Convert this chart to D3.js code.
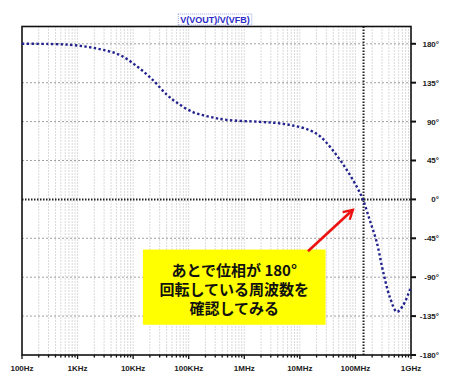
<!DOCTYPE html>
<html>
<head>
<meta charset="utf-8">
<script src="https://cdn.jsdelivr.net/npm/d3@7"></script>
<style>
  body { margin: 0; background: #fff; }
  svg { display: block; }
</style>
</head>
<body>
<div id="chart"></div>
<script>
// phase response (Hz, degrees)
var freqs = [100, 300, 730, 1480, 2860, 5800, 11700, 22700, 40500, 61000, 119000, 240000, 486000,
  1.9e6, 3.86e6, 7.5e6, 15e6, 23e6, 39e6, 70e6, 106e6, 136e6, 181e6, 243e6, 311e6, 416e6,
  556e6, 713e6, 951e6, 1e9];
var phases = [180, 179.8, 178.8, 176.5, 173, 167, 154, 138, 121, 112, 101, 95.5, 92,
  89.7, 88.3, 85.5, 80, 73, 57, 34, 14.5, 0, -24, -50, -82, -113,
  -130, -123, -105, -101];

var decadeLabels = ['100Hz', '1KHz', '10KHz', '100KHz', '1MHz', '10MHz', '100MHz', '1GHz'];
var phaseTicks = [180, 135, 90, 45, 0, -45, -90, -135, -180];
var crossFreq = 1.4e8;   // dotted marker where phase crosses 0
var noteLines = ['あとで位相が 180°', '回転している周波数を', '確認してみる'];

var W = 450, H = 378;
var m = { left: 22, right: 411, top: 26.5, bottom: 355 };

var $svg = d3.select('#chart').append('svg')
  .attr('width', W).attr('height', H);

var x = d3.scaleLog().domain([100, 1e9]).range([m.left, m.right]);
var y = d3.scaleLinear().domain([-180, 200]).range([m.bottom, m.top]);

// minor log positions 1..9 per decade
var gridFreqs = [];
for (var e = 2; e < 9; e++) {
  for (var k = 1; k < 10; k++) gridFreqs.push(k * Math.pow(10, e));
}
gridFreqs.push(1e9);

// vertical grid
$svg.append('g').selectAll('line')
  .data(gridFreqs.filter(function(d) { return d > 100 && d < 1e9; }))
  .enter().append('line')
  .attr('x1', function(d) { return x(d); })
  .attr('x2', function(d) { return x(d); })
  .attr('y1', m.top).attr('y2', m.bottom)
  .style('stroke', '#b4b4b4')
  .style('stroke-width', 1)
  .style('stroke-dasharray', '1,2');

// horizontal grid
$svg.append('g').selectAll('line')
  .data(phaseTicks.filter(function(d) { return d !== 0 && d !== -180; }))
  .enter().append('line')
  .attr('x1', m.left).attr('x2', m.right)
  .attr('y1', function(d) { return y(d); })
  .attr('y2', function(d) { return y(d); })
  .style('stroke', '#a0a0a0')
  .style('stroke-width', 1)
  .style('stroke-dasharray', '2,2');

// zero line and crossover marker
$svg.append('line')
  .attr('x1', m.left).attr('x2', m.right)
  .attr('y1', y(0)).attr('y2', y(0))
  .style('stroke', '#222').style('stroke-width', 2)
  .style('stroke-dasharray', '1.5,1.5');
$svg.append('line')
  .attr('x1', x(crossFreq)).attr('x2', x(crossFreq))
  .attr('y1', m.top).attr('y2', m.bottom)
  .style('stroke', '#222').style('stroke-width', 2)
  .style('stroke-dasharray', '1.5,1.5');

// frame
$svg.append('rect')
  .attr('x', m.left).attr('y', m.top)
  .attr('width', m.right - m.left).attr('height', m.bottom - m.top)
  .style('fill', 'none').style('stroke', '#111').style('stroke-width', 1.6);

// bottom ticks
$svg.append('g').selectAll('line')
  .data(gridFreqs)
  .enter().append('line')
  .attr('x1', function(d) { return x(d); })
  .attr('x2', function(d) { return x(d); })
  .attr('y1', m.bottom)
  .attr('y2', function(d) {
    var l = Math.log10(d);
    return m.bottom + (Math.abs(l - Math.round(l)) < 1e-9 ? 4 : 2.5);
  })
  .style('stroke', '#111').style('stroke-width', 1.3);

$svg.append('g').selectAll('text')
  .data(decadeLabels)
  .enter().append('text')
  .attr('x', function(d, i) { return x(100 * Math.pow(10, i)); })
  .attr('y', 371)
  .attr('text-anchor', 'middle')
  .style('font-family', 'Liberation Sans, Arial, sans-serif')
  .style('font-weight', 'bold')
  .style('font-size', '8px')
  .style('fill', '#222')
  .text(function(d) { return d; });

// right axis ticks and labels
$svg.append('g').selectAll('line')
  .data(phaseTicks)
  .enter().append('line')
  .attr('x1', m.right).attr('x2', m.right + 5)
  .attr('y1', function(d) { return y(d); })
  .attr('y2', function(d) { return y(d); })
  .style('stroke', '#111').style('stroke-width', 2);

$svg.append('g').selectAll('text')
  .data(phaseTicks)
  .enter().append('text')
  .attr('x', 439)
  .attr('y', function(d) { return y(d) + 3; })
  .attr('text-anchor', 'end')
  .style('font-family', 'Liberation Sans, Arial, sans-serif')
  .style('font-weight', 'bold')
  .style('font-size', '8px')
  .style('fill', '#222')
  .text(function(d) { return d + '°'; });

// title
var $title = $svg.append('text')
  .attr('x', 215).attr('y', 23)
  .attr('text-anchor', 'middle')
  .style('font-family', 'Liberation Sans, Arial, sans-serif')
  .style('font-weight', 'bold')
  .style('font-size', '9px')
  .style('fill', '#2b2bc8')
  .text('V(VOUT)/V(VFB)');
var tb = $title.node().getBBox();
$svg.append('rect')
  .attr('x', tb.x - 2).attr('y', tb.y - 1)
  .attr('width', tb.width + 4).attr('height', tb.height + 1)
  .style('fill', 'none').style('stroke', '#9aa0e0')
  .style('stroke-width', 1).style('stroke-dasharray', '1,1');

// phase curve
var pts = freqs.map(function(f, i) { return { f: f, p: phases[i] }; });
var line = d3.line()
  .x(function(d) { return x(d.f); })
  .y(function(d) { return y(d.p); })
  .curve(d3.curveCatmullRom.alpha(0.5));

$svg.append('path')
  .datum(pts)
  .attr('d', line)
  .style('fill', 'none')
  .style('stroke', '#23238f')
  .style('stroke-width', 2.4)
  .style('stroke-dasharray', '2.4,2.4');

// annotation box (in data units)
var box = { f0: 1.5e4, f1: 2.9e7, p0: -58, p1: -145 };
$svg.append('rect')
  .attr('x', x(box.f0)).attr('y', y(box.p0))
  .attr('width', x(box.f1) - x(box.f0))
  .attr('height', y(box.p1) - y(box.p0))
  .style('fill', '#ffff00');

var cx = (x(box.f0) + x(box.f1)) / 2;
$svg.append('g').selectAll('text')
  .data(noteLines)
  .enter().append('text')
  .attr('x', cx)
  .attr('y', function(d, i) { return 276 + i * 19; })
  .attr('text-anchor', 'middle')
  .style('font-family', 'Noto Sans CJK JP, sans-serif')
  .style('font-weight', 'bold')
  .style('font-size', '15px')
  .style('fill', '#111')
  .text(function(d) { return d; });

// red arrow
$svg.append('defs').append('marker')
  .attr('id', 'head')
  .attr('viewBox', '0 0 10 10')
  .attr('refX', 8).attr('refY', 5)
  .attr('markerWidth', 5).attr('markerHeight', 5)
  .attr('orient', 'auto')
  .append('path')
  .attr('d', 'M1,1 L8,5 L1,9')
  .style('fill', 'none').style('stroke', '#ee1111').style('stroke-width', 1.8);

var arrow = { f0: 1.4e7, p0: -60, f1: 9e7, p1: -12 };
$svg.append('line')
  .attr('x1', x(arrow.f0)).attr('y1', y(arrow.p0))
  .attr('x2', x(arrow.f1)).attr('y2', y(arrow.p1))
  .attr('marker-end', 'url(#head)')
  .style('stroke', '#ee1111').style('stroke-width', 2.6);
</script>
</body>
</html>
